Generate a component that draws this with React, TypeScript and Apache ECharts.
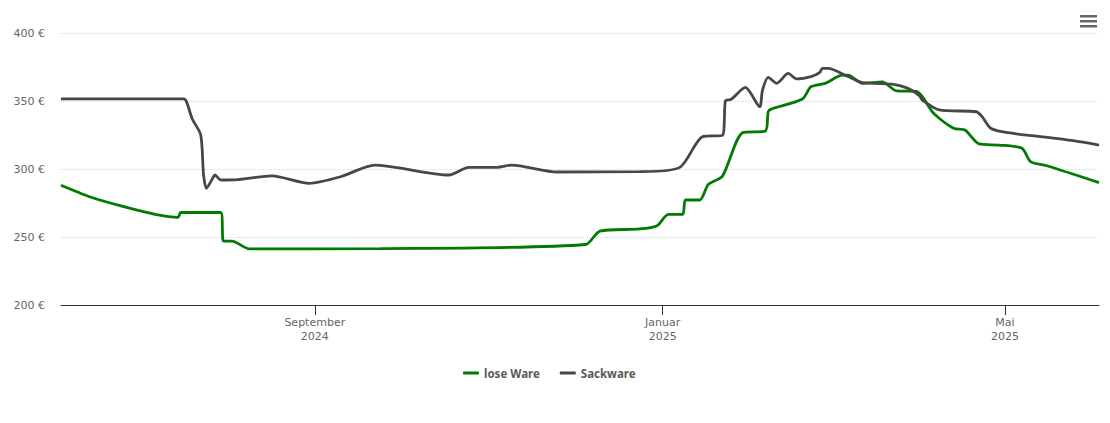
import React, { useEffect, useRef } from "react";
import * as echarts from "echarts";

const looseDates = [
  "2024-06-04", "2024-06-14", "2024-06-26", "2024-07-07", "2024-07-15", "2024-07-16",
  "2024-07-30", "2024-07-31", "2024-08-03", "2024-08-09", "2024-09-24", "2024-12-05",
  "2024-12-10", "2024-12-24", "2024-12-30", "2025-01-03", "2025-01-08", "2025-01-09",
  "2025-01-14", "2025-01-17", "2025-01-22", "2025-01-29", "2025-02-06", "2025-02-07",
  "2025-02-08", "2025-02-19", "2025-02-22", "2025-02-27", "2025-03-05", "2025-03-07",
  "2025-03-12", "2025-03-19", "2025-03-24", "2025-03-31", "2025-04-06", "2025-04-13",
  "2025-04-17", "2025-04-22", "2025-04-29", "2025-05-07", "2025-05-10", "2025-05-16",
  "2025-06-03",
];
const looseValues = [
  288, 279.6, 272.3, 266.7, 264.5, 268,
  268, 247, 247, 241.3, 241.5, 244.5,
  254.4, 255.9, 258.3, 266.7, 266.7, 277.2,
  277.2, 288.7, 294.9, 326.7, 328, 342.1,
  344, 351.5, 360.5, 363, 369, 369,
  363, 364, 357.4, 357, 341, 330,
  328.7, 318.4, 317.6, 315.2, 305.4, 302.2,
  290,
];

const sackDates = [
  "2024-06-04", "2024-07-17", "2024-07-18", "2024-07-20", "2024-07-23", "2024-07-24",
  "2024-07-25", "2024-07-27", "2024-07-28", "2024-07-30", "2024-08-04", "2024-08-17",
  "2024-08-30", "2024-09-10", "2024-09-22", "2024-10-18", "2024-10-25", "2024-11-04",
  "2024-11-09", "2024-11-25", "2024-12-24", "2025-01-07", "2025-01-15", "2025-01-22",
  "2025-01-23", "2025-01-25", "2025-01-30", "2025-02-04", "2025-02-05", "2025-02-07",
  "2025-02-10", "2025-02-14", "2025-02-17", "2025-02-22", "2025-02-25", "2025-02-26",
  "2025-02-28", "2025-03-07", "2025-03-12", "2025-03-23", "2025-03-28", "2025-04-01",
  "2025-04-02", "2025-04-08", "2025-04-21", "2025-04-23", "2025-04-26", "2025-05-02",
  "2025-05-16", "2025-05-25", "2025-06-03",
];
const sackValues = [
  351.5, 351.5, 349.5, 337, 325, 295.6,
  285.8, 292.4, 295.6, 291.9, 292, 295,
  289.5, 294.3, 302.9, 295.6, 301.2, 301.2,
  302.9, 297.8, 298, 301.2, 323.8, 324.8,
  350.2, 351.2, 360, 345.8, 358, 367.4,
  363, 370.3, 366.2, 367.9, 370.8, 374,
  374, 368, 363.5, 362.3, 359.3, 354,
  350.7, 343.4, 342.1, 338.5, 330, 326.7,
  323.3, 320.8, 317.6,
];

const seriesNames = ["lose Ware", "Sackware"];
const yTicks = [200, 250, 300, 350, 400];
const axisStart = "2024-06-04";
const axisEnd = "2025-06-03";
const monthTicks = ["2024-09-01", "2025-01-01", "2025-05-01"];
const germanMonths = [
  "Januar", "Februar", "März", "April", "Mai", "Juni",
  "Juli", "August", "September", "Oktober", "November", "Dezember",
];

function pad(n: number) {
  return n < 10 ? "0" + n : "" + n;
}

function dayCategories(start: string, end: string): string[] {
  const [ys, ms, ds] = start.split("-").map(Number);
  const d = new Date(ys, ms - 1, ds, 12);
  const out: string[] = [];
  for (;;) {
    const s = d.getFullYear() + "-" + pad(d.getMonth() + 1) + "-" + pad(d.getDate());
    out.push(s);
    if (s === end) break;
    d.setDate(d.getDate() + 1);
  }
  return out;
}

export default function App() {
  const ref = useRef<HTMLDivElement>(null);
  useEffect(() => {
    document.body.style.margin = "0";
    if (!ref.current) return;
    const chart = echarts.init(ref.current, undefined, { renderer: "svg" });
    const cats = dayCategories(axisStart, axisEnd);
    const isTick = (_i: number, v: string) => monthTicks.indexOf(v) >= 0;
    const font = "'DejaVu Sans', Verdana, sans-serif";
    chart.setOption({
      animation: false,
      backgroundColor: "#ffffff",
      grid: { left: 61, right: 11, top: 33, bottom: 118, containLabel: false },
      legend: {
        data: seriesNames,
        bottom: 44,
        left: 463,
        padding: 0,
        itemWidth: 16,
        itemHeight: 3,
        itemGap: 20,
        icon: "roundRect",
        textStyle: { fontFamily: "'Noto Sans', sans-serif", fontWeight: "bold", fontSize: 11.5, color: "#5a5a5a" },
      },
      xAxis: {
        type: "category",
        data: cats,
        boundaryGap: false,
        axisLine: { lineStyle: { color: "#333", width: 1 } },
        axisTick: { show: true, length: 10, interval: isTick, lineStyle: { color: "#333" } },
        axisLabel: {
          interval: isTick,
          margin: 10,
          color: "#666",
          fontSize: 11,
          fontFamily: font,
          lineHeight: 14,
          formatter: (v: string) => {
            const [y, m] = v.split("-").map(Number);
            return germanMonths[m - 1] + "\n" + y;
          },
        },
        splitLine: { show: false },
      },
      yAxis: {
        type: "value",
        min: yTicks[0],
        max: yTicks[yTicks.length - 1],
        interval: 50,
        axisLine: { show: false },
        axisTick: { show: false },
        axisLabel: { formatter: "{value} €", color: "#666", fontSize: 11, fontFamily: font, margin: 16 },
        splitLine: { lineStyle: { type: "dotted", color: "#d8d8d8" } },
      },
      series: [
        {
          name: seriesNames[0],
          type: "line",
          data: looseDates.map((d, i) => [d, looseValues[i]]),
          showSymbol: false,
          smooth: 0.25,
          lineStyle: { color: "#007a00", width: 2.8 },
          itemStyle: { color: "#007a00" },
        },
        {
          name: seriesNames[1],
          type: "line",
          data: sackDates.map((d, i) => [d, sackValues[i]]),
          showSymbol: false,
          smooth: 0.25,
          lineStyle: { color: "#474747", width: 2.8 },
          itemStyle: { color: "#474747" },
        },
      ],
      graphic: [
        { type: "rect", shape: { x: 1080, y: 15, width: 17, height: 2.5 }, style: { fill: "#666" } },
        { type: "rect", shape: { x: 1080, y: 20, width: 17, height: 2.5 }, style: { fill: "#666" } },
        { type: "rect", shape: { x: 1080, y: 25, width: 17, height: 2.5 }, style: { fill: "#666" } },
      ],
    });
    return () => chart.dispose();
  }, []);
  return <div ref={ref} style={{ width: 1110, height: 423 }} />;
}
